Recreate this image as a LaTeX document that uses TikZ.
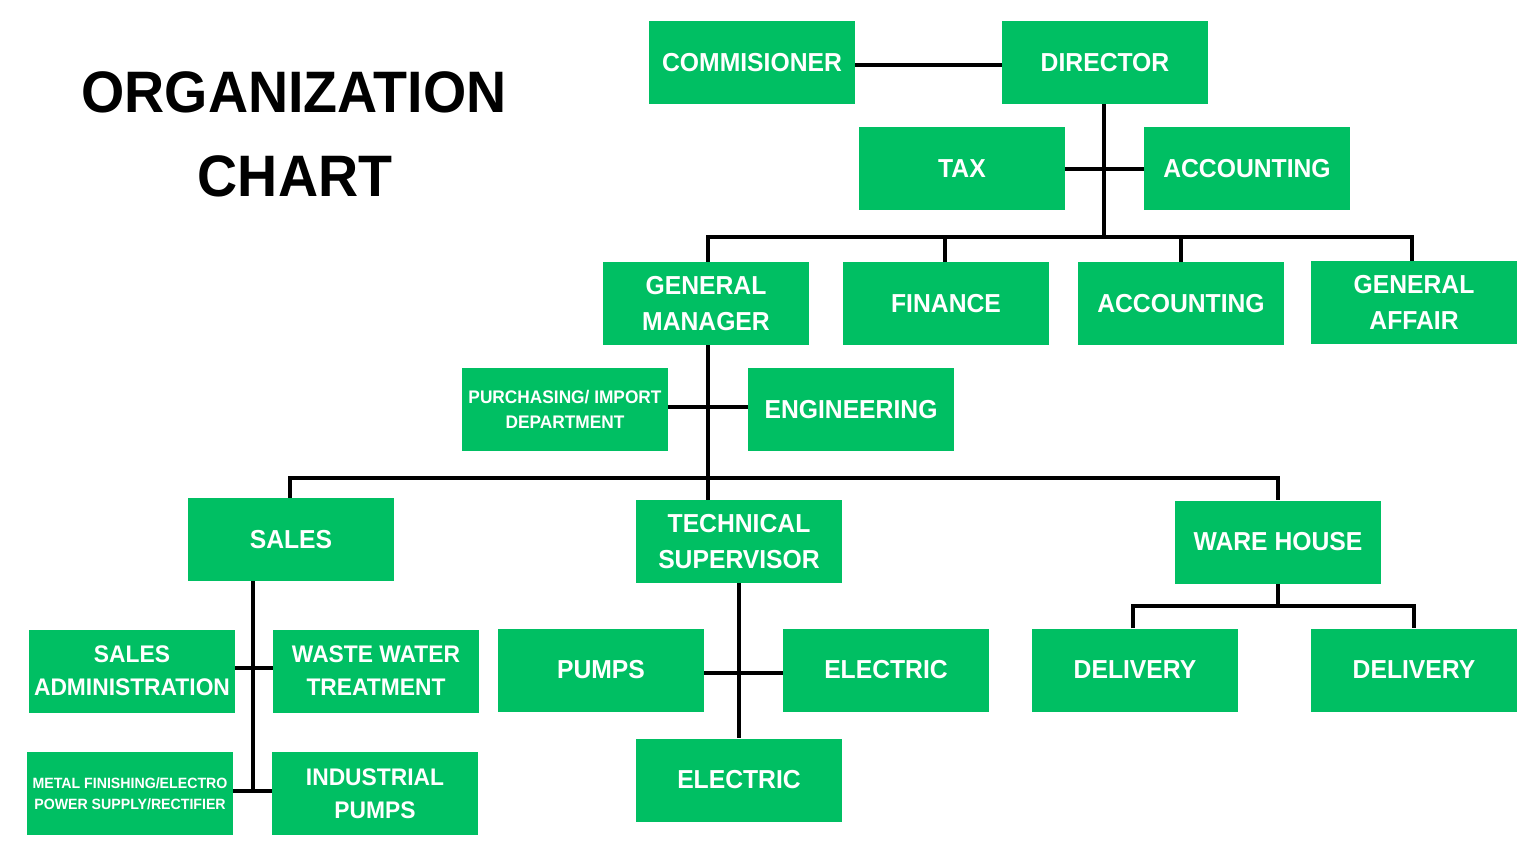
\documentclass[tikz,border=0pt]{standalone}
\usepackage{fontspec}
\setmainfont{Liberation Sans}[FakeStretch=0.95]
\newfontfamily\titlefont{Liberation Sans}[FakeStretch=0.95]
\definecolor{boxgreen}{HTML}{00BF63}
\tikzset{
  box/.style={rectangle, fill=boxgreen, text=white, minimum width=206pt, minimum height=83pt, inner sep=0pt, align=center, font=\bfseries\fontsize{26}{36}\selectfont},
  midbox/.style={box, font=\bfseries\fontsize{24}{33}\selectfont},
  smallbox/.style={box, font=\bfseries\fontsize{18.2}{25}\selectfont},
  tinybox/.style={box, font=\bfseries\fontsize{14.9}{21}\selectfont},
  conn/.style={draw=black, line width=4pt},
  title/.style={font=\titlefont\bfseries\fontsize{58.5}{60}\selectfont, anchor=base, inner sep=0pt}
}
\begin{document}
\begin{tikzpicture}[x=1pt,y=-1pt]
\useasboundingbox[fill=white] (0,0) rectangle (1536,864);
% title
\node[title] (t1) at (294,113) {ORGANIZATION};
\node[title] (t2) at (295,196) {CHART};
% boxes
\node[box] (comm) at (752,62.5) {COMMISIONER};
\node[box] (dir) at (1105,62.5) {DIRECTOR};
\node[box] (tax) at (962,168.5) {TAX};
\node[box] (acc1) at (1247,168.5) {ACCOUNTING};
\node[box] (gm) at (706,303.5) {GENERAL\\MANAGER};
\node[box] (fin) at (946,303.5) {FINANCE};
\node[box] (acc2) at (1181,303.5) {ACCOUNTING};
\node[box] (ga) at (1414,302.5) {GENERAL\\AFFAIR};
\node[smallbox] (pur) at (565,409.5) {PURCHASING/ IMPORT\\DEPARTMENT};
\node[box] (eng) at (851,409.5) {ENGINEERING};
\node[box] (sales) at (291,539.5) {SALES};
\node[box] (tech) at (739,541.5) {TECHNICAL\\SUPERVISOR};
\node[box] (wh) at (1278,542) {WARE HOUSE};
\node[midbox] (sadm) at (132,671) {SALES\\ADMINISTRATION};
\node[midbox] (www) at (376,671) {WASTE WATER\\TREATMENT};
\node[box] (pumps) at (601,670) {PUMPS};
\node[box] (elec1) at (886,670) {ELECTRIC};
\node[box] (del1) at (1135,670) {DELIVERY};
\node[box] (del2) at (1414,670) {DELIVERY};
\node[tinybox] (metal) at (130,793.5) {METAL FINISHING/ELECTRO\\POWER SUPPLY/RECTIFIER};
\node[midbox] (ind) at (375,793.5) {INDUSTRIAL\\PUMPS};
\node[box] (elec2) at (739,780) {ELECTRIC};
% coordinates
\coordinate (b1) at (1104,237);
\coordinate (b1l) at (708,237);
\coordinate (b1r) at (1412,237);
\coordinate (b2) at (708,478);
\coordinate (b2l) at (290,478);
\coordinate (b2r) at (1278,478);
\coordinate (s1) at (253,791);
\coordinate (w1) at (1278,606);
\coordinate (w1l) at (1133,606);
\coordinate (w1r) at (1414,606);
% connectors
\draw[conn] (comm.east |- 0,65) -- (dir.west |- 0,65);
\draw[conn] (dir.south -| b1) -- (b1);
\draw[conn] (tax.east |- 0,169) -- (acc1.west |- 0,169);
\draw[conn] (b1l |- gm.north) -- (b1l) -- (b1r) -- (b1r |- ga.north);
\draw[conn] (fin.north -| 945,0) -- (945,237);
\draw[conn] (acc2.north) -- (acc2.north |- b1);
\draw[conn] (b2 |- gm.south) -- (b2 |- tech.north);
\draw[conn] (pur.east |- 0,407) -- (eng.west |- 0,407);
\draw[conn] (b2l |- sales.north) -- (b2l) -- (b2r) -- (b2r |- wh.north);
\draw[conn] (s1 |- sales.south) -- (s1);
\draw[conn] (sadm.east |- 0,668) -- (www.west |- 0,668);
\draw[conn] (metal.east |- s1) -- (ind.west |- s1);
\draw[conn] (tech.south) -- (elec2.north);
\draw[conn] (pumps.east |- 0,673) -- (elec1.west |- 0,673);
\draw[conn] (wh.south -| w1) -- (w1);
\draw[conn] (w1l |- del1.north) -- (w1l) -- (w1r) -- (w1r |- del2.north);
\end{tikzpicture}
\end{document}
